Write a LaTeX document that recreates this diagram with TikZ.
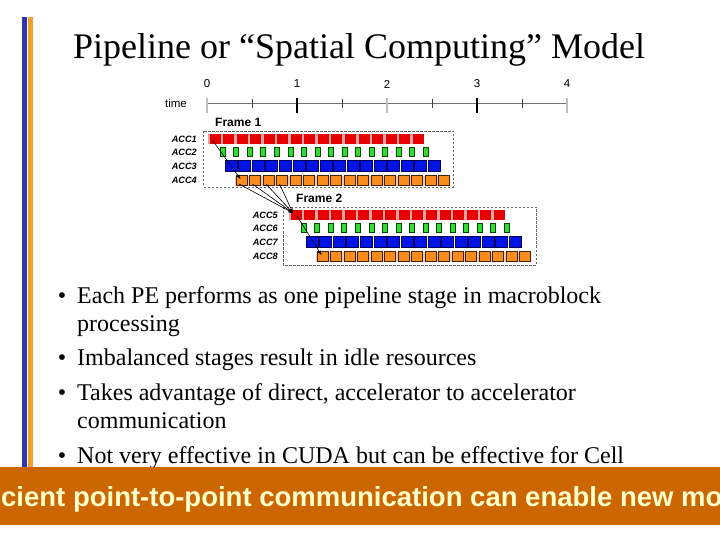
\documentclass[tikz,border=0pt]{standalone}
\usepackage{fontspec}
\setmainfont{Liberation Serif}
\setsansfont{Liberation Sans}
\usetikzlibrary{arrows.meta}
\definecolor{barblue}{RGB}{51,51,170}
\definecolor{barorange}{RGB}{240,160,40}
\definecolor{banner}{RGB}{204,102,0}
\definecolor{bannertext}{RGB}{255,255,204}
\definecolor{redfill}{RGB}{230,0,0}
\definecolor{redstrip}{RGB}{215,165,165}
\definecolor{grnfill}{RGB}{50,220,50}
\definecolor{grndraw}{RGB}{0,70,0}
\definecolor{bluefill}{RGB}{0,20,230}
\definecolor{bluedraw}{RGB}{0,0,90}
\definecolor{orgfill}{RGB}{250,140,30}
\definecolor{orgdraw}{RGB}{70,35,0}
\definecolor{orgstrip}{RGB}{225,205,185}
\tikzset{
  blk/.style={inner sep=0pt, outer sep=0pt, anchor=west},
  redblk/.style={blk, fill=redfill, minimum width=11pt, minimum height=10pt},
  grnblk/.style={blk, fill=grnfill, draw=grndraw, line width=0.5pt, minimum width=5pt, minimum height=9pt},
  blueblk/.style={blk, fill=bluefill, draw=bluedraw, line width=0.5pt, minimum width=12pt, minimum height=11pt},
  orgblk/.style={blk, fill=orgfill, draw=orgdraw, line width=0.6pt, minimum width=11pt, minimum height=10pt},
  acclbl/.style={font=\sffamily\bfseries\itshape\fontsize{9.2}{10}\selectfont, anchor=east, inner sep=0pt},
  frmlbl/.style={font=\sffamily\bfseries\fontsize{12}{13}\selectfont, anchor=west, inner sep=0pt},
  axlbl/.style={font=\sffamily\fontsize{11.5}{12}\selectfont, inner sep=0pt},
  framebox/.style={draw=black!60, dash pattern=on 2.5pt off 1.5pt, line width=0.6pt},
  arr/.style={draw=black, line width=0.6pt, -{Stealth[length=5pt,width=3.5pt]}},
  bullettext/.style={font=\fontsize{24}{28}\selectfont, anchor=base west, inner sep=0pt},
}
\newcommand\drawpipeframe[4]{%
  \begin{scope}[shift={(#2,#3)}]
    \fill[redstrip] (207.5,134) rectangle (424,144);
    \fill[orgstrip] (235,176) rectangle (450,186);
    \foreach \i in {0,...,15}{
      \node[redblk] (f#1r\i) at ({209.5+13.55*\i},139) {};
      \node[grnblk] (f#1g\i) at ({220+13.55*\i},152) {};
      \node[blueblk] (f#1b\i) at ({225+13.55*\i},166) {};
      \node[orgblk] (f#1o\i) at ({236+13.5*\i},180) {};
    }
    \node[acclbl] (f#1l1) at (197,139) {ACC\the\numexpr#4\relax};
    \node[acclbl] (f#1l2) at (197,152) {ACC\the\numexpr#4+1\relax};
    \node[acclbl] (f#1l3) at (197,166) {ACC\the\numexpr#4+2\relax};
    \node[acclbl] (f#1l4) at (197,180) {ACC\the\numexpr#4+3\relax};
    \node[frmlbl] (f#1t) at (215,122) {Frame #1};
  \end{scope}}
\begin{document}
\begin{tikzpicture}[x=1pt,y=-1pt]
\useasboundingbox (0,0) rectangle (720,540);
\fill[white] (0,0) rectangle (720,540);
% side bars
\fill[barblue] (22,17) rectangle (26.5,467);
\fill[barorange] (28,17) rectangle (32.5,467);
% title
\node[font=\fontsize{36}{40}\selectfont, anchor=base, inner sep=0pt] (title) at (359,59) {Pipeline or “Spatial Computing” Model};
% time axis
\node[axlbl] (timelbl) at (176,103) {time};
\draw[black!55, line width=0.6pt] (207,103) -- (567,103);
\foreach \k/\c in {0/black!25,1/black,2/black!25,3/black,4/black!25}{
  \draw[\c, line width=1.3pt] ({207+90*\k},98) -- ({207+90*\k},113);
  \node[axlbl] (t\k) at ({207+90*\k},84) {\k};
}
\foreach \k in {0,1,2,3}{
  \draw[black!75, line width=0.7pt] ({252+90*\k},99) -- ({252+90*\k},108);
}
% frames
\drawpipeframe{1}{0}{0}{1}
\drawpipeframe{2}{81}{76}{5}
\draw[framebox] (203.5,131) rectangle (453,187);
\draw[framebox] (283,207) rectangle (536,265);
% arrows
\coordinate (a1) at ([xshift=4.5pt,yshift=-4pt]f1o0.north west);
\coordinate (a2) at ([xshift=2.5pt,yshift=-3pt]f2r0.north west);
\coordinate (a3) at ([xshift=4.5pt,yshift=-4pt]f2o0.north west);
\draw[arr] ([xshift=-2pt,yshift=-2pt]f1r0.center) -- (a1);
\foreach \k in {0,...,3}{
  \draw[arr] ([xshift=3pt,yshift=1pt]f1o\k.south west) -- (a2);
}
\draw[arr] ([xshift=1pt,yshift=-1pt]f2r0.center) -- (a3);
% bullets
\foreach \n/\y in {1/303,2/365,3/400,4/463}{
  \node[font=\fontsize{24}{28}\selectfont, anchor=base, inner sep=0pt] (b\n) at (62,\y) {•};
}
\node[bullettext] (l1) at (77,303) {Each PE performs as one pipeline stage in macroblock};
\node[bullettext] (l1b) at (77,331) {processing};
\node[bullettext] (l2) at (77,365) {Imbalanced stages result in idle resources};
\node[bullettext] (l3) at (77,400) {Takes advantage of direct, accelerator to accelerator};
\node[bullettext] (l3b) at (77,428) {communication};
\node[bullettext] (l4) at (77,463) {Not very effective in CUDA but can be effective for Cell};
% banner
\fill[banner] (0,467) rectangle (720,525);
\begin{scope}
\clip (0,467) rectangle (720,525);
\node[font=\sffamily\bfseries\fontsize{27.5}{30}\selectfont, text=bannertext, anchor=base west, inner sep=0pt] (bn) at (1,506) {cient point-to-point communication can enable new mo};
\end{scope}
\end{tikzpicture}
\end{document}
